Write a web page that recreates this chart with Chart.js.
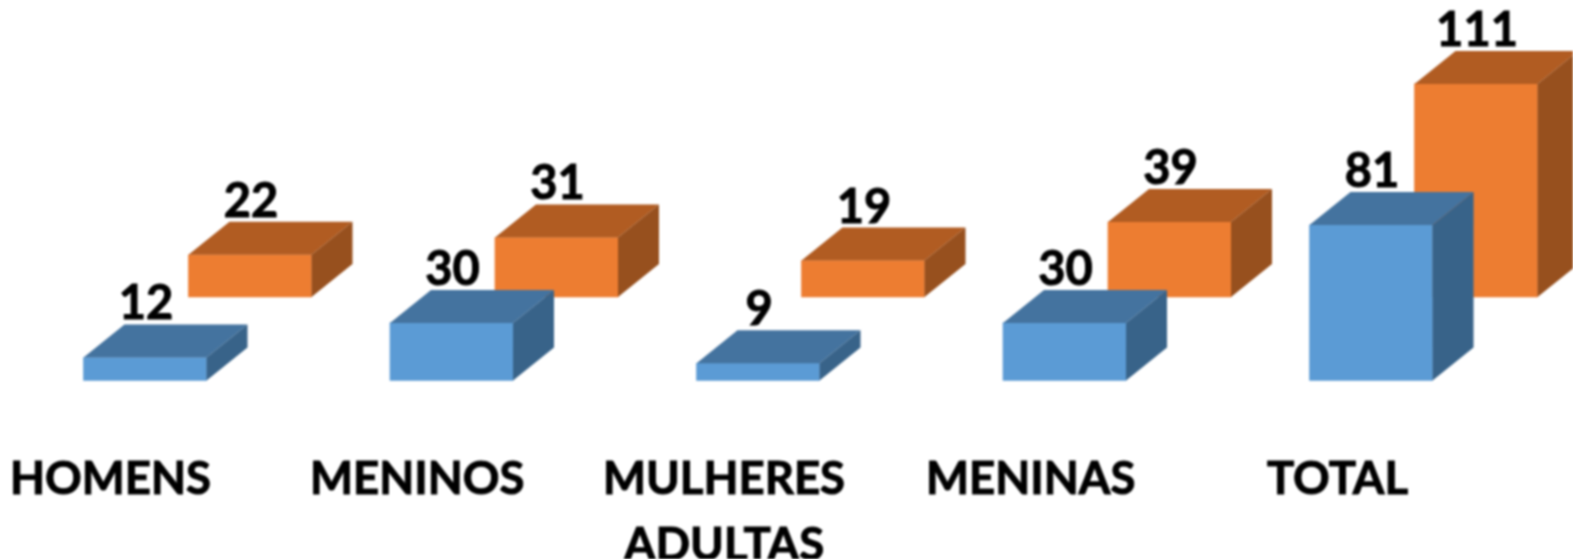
<!DOCTYPE html>
<html>
<head>
<meta charset="utf-8">
<style>
html,body{margin:0;padding:0;background:#fff;overflow:hidden}
canvas{display:block;filter:blur(0.8px)}
</style>
<script src="https://cdn.jsdelivr.net/npm/chart.js@4"></script>
</head>
<body>
<canvas id="c" width="1573" height="559"></canvas>
<script>
const categories = ['HOMENS', 'MENINOS', ['MULHERES', 'ADULTAS'], 'MENINAS', 'TOTAL'];
const frontSeries = [12, 30, 9, 30, 81];
const backSeries = [22, 31, 19, 39, 111];

const TICK_FONT = {family: 'Lato', weight: '700', size: 45.5, lineHeight: 1.45};
const VALUE_FONT = {family: 'Lato', weight: '700', size: 47};
const DEPTH = {x: 41, y: 33};

const bar3d = {
  id: 'bar3d',
  afterDatasetDraw(chart, args) {
    const ds = chart.data.datasets[args.index];
    const ctx = chart.ctx;
    ctx.save();
    args.meta.data.forEach(el => {
      const p = el.getProps(['x', 'y', 'base', 'width'], true);
      const l = p.x - p.width / 2, r = p.x + p.width / 2;
      ctx.fillStyle = ds.topColor;
      ctx.beginPath();
      ctx.moveTo(l, p.y);
      ctx.lineTo(l + DEPTH.x, p.y - DEPTH.y);
      ctx.lineTo(r + DEPTH.x, p.y - DEPTH.y);
      ctx.lineTo(r, p.y);
      ctx.closePath();
      ctx.fill();
      ctx.fillStyle = ds.sideColor;
      ctx.beginPath();
      ctx.moveTo(r, p.y);
      ctx.lineTo(r + DEPTH.x, p.y - DEPTH.y);
      ctx.lineTo(r + DEPTH.x, p.base - DEPTH.y);
      ctx.lineTo(r, p.base);
      ctx.closePath();
      ctx.fill();
    });
    ctx.restore();
  },
  afterDatasetsDraw(chart) {
    const ctx = chart.ctx;
    ctx.save();
    ctx.fillStyle = '#000';
    ctx.strokeStyle = '#000';
    ctx.lineWidth = 1;
    ctx.font = `${VALUE_FONT.weight} ${VALUE_FONT.size}px ${VALUE_FONT.family}`;
    ctx.textAlign = 'center';
    ctx.textBaseline = 'alphabetic';
    chart.data.datasets.forEach((ds, i) => {
      chart.getDatasetMeta(i).data.forEach((el, j) => {
        const p = el.getProps(['x', 'y'], true);
        const label = String(ds.data[j].y);
        const tx = p.x + 1, ty = p.y - DEPTH.y - 5;
        ctx.strokeText(label, tx, ty);
        ctx.fillText(label, tx, ty);
      });
    });
    ctx.restore();
  }
};

const toPoints = values => values.map((v, i) => ({x: i, y: v}));

new Chart(document.getElementById('c'), {
  type: 'bar',
  data: {
    labels: categories,
    datasets: [
      {label: 'Série 1', data: toPoints(frontSeries), xAxisID: 'xFront', yAxisID: 'yFront',
       backgroundColor: '#5B9BD5', topColor: '#44739F', sideColor: '#386389',
       barThickness: 123, grouped: false, clip: false},
      {label: 'Série 2', data: toPoints(backSeries), xAxisID: 'xBack', yAxisID: 'yBack',
       backgroundColor: '#ED7D31', topColor: '#B15C22', sideColor: '#97501E',
       barThickness: 123, grouped: false, clip: false}
    ]
  },
  options: {
    responsive: false,
    animation: false,
    layout: {padding: {left: 110.5, right: 235.5, top: 0, bottom: 0}},
    plugins: {legend: {display: false}, tooltip: {enabled: false}, title: {display: false}},
    scales: {
      x: {
        type: 'category', position: 'bottom', offset: false,
        grid: {display: false}, border: {display: false},
        ticks: {autoSkip: false, maxRotation: 0, minRotation: 0, padding: 58, color: '#000', font: TICK_FONT,
                textStrokeColor: '#000', textStrokeWidth: 1},
        afterFit(s) { s.height = 178.5; s.paddingLeft = 0; s.paddingRight = 0; }
      },
      xFront: {type: 'linear', display: false, offset: false, min: -0.1126, max: 3.8906},
      xBack: {type: 'linear', display: false, offset: false, min: -0.4551, max: 3.5481},
      yFront: {type: 'linear', display: false, min: 0, max: 198.2},
      yBack: {type: 'linear', display: false, min: -43.5, max: 154.7}
    }
  },
  plugins: [bar3d]
});
</script>
</body>
</html>
